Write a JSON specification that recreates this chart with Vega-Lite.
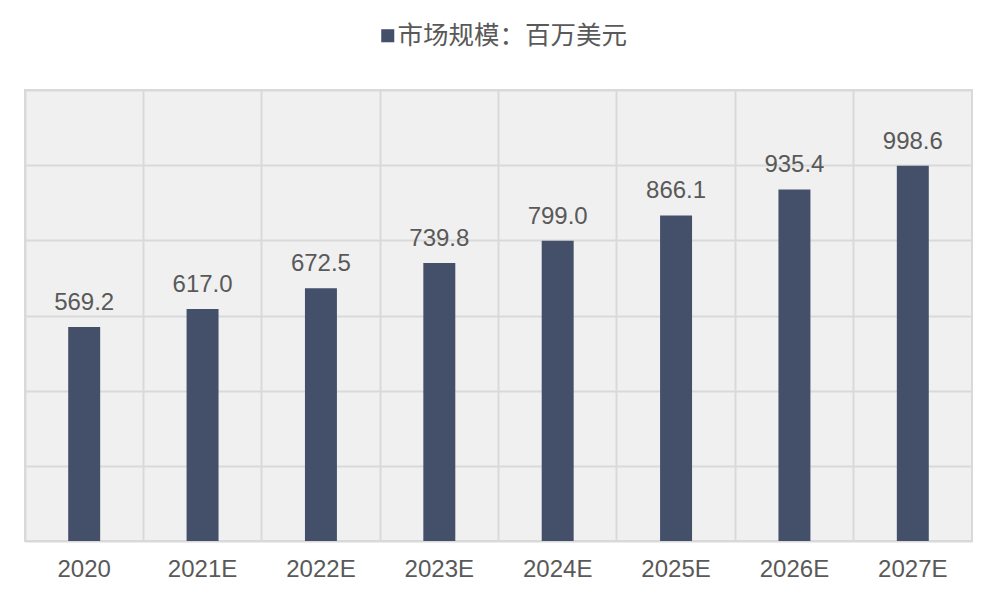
{
  "$schema": "https://vega.github.io/schema/vega-lite/v6.json",
  "width": 947,
  "height": 451,
  "autosize": "none",
  "padding": {"left": 25, "top": 90, "right": 27, "bottom": 59},
  "background": "white",
  "config": {
    "view": {"stroke": "#d9d9d9", "strokeWidth": 2, "fill": "#f0f0f0"},
    "font": "Liberation Sans"
  },
  "data": {
    "values": [
      {"year": "2020", "value": 569.2},
      {"year": "2021E", "value": 617.0},
      {"year": "2022E", "value": 672.5},
      {"year": "2023E", "value": 739.8},
      {"year": "2024E", "value": 799.0},
      {"year": "2025E", "value": 866.1},
      {"year": "2026E", "value": 935.4},
      {"year": "2027E", "value": 998.6}
    ]
  },
  "encoding": {
    "x": {
      "field": "year",
      "type": "nominal",
      "sort": null,
      "scale": {"paddingInner": 0, "paddingOuter": 0},
      "axis": {
        "title": null,
        "labelAngle": 0,
        "domain": false,
        "ticks": false,
        "grid": true,
        "bandPosition": 0,
        "gridColor": "#d9d9d9",
        "gridWidth": 2,
        "labelFontSize": 24,
        "labelColor": "#595959",
        "labelPadding": 16,
        "labelFont": "Liberation Sans"
      }
    }
  },
  "layer": [
    {
      "mark": {"type": "bar", "width": {"band": 0.27}},
      "encoding": {
        "y": {
          "field": "value",
          "type": "quantitative",
          "scale": {"domain": [0, 1200]},
          "axis": {
            "title": null,
            "labels": false,
            "ticks": false,
            "domain": false,
            "tickCount": 6,
            "gridColor": "#d9d9d9",
            "gridWidth": 2
          }
        },
        "color": {
          "datum": "市场规模：百万美元",
          "type": "nominal",
          "scale": {"range": ["#44506a"]},
          "legend": {
            "title": null,
            "orient": "none",
            "legendX": 350,
            "legendY": -67,
            "symbolType": "square",
            "symbolSize": 170,
            "symbolStrokeWidth": 0,
            "labelOffset": -3,
            "labelFontSize": 25.5,
            "labelColor": "#595959",
            "labelFont": "Noto Sans CJK SC",
            "labelLimit": 400
          }
        }
      }
    },
    {
      "mark": {"type": "text", "dy": -12, "baseline": "bottom", "fontSize": 24, "color": "#595959"},
      "encoding": {
        "y": {"field": "value", "type": "quantitative"},
        "text": {"field": "value", "type": "quantitative", "format": ".1f"}
      }
    }
  ]
}
